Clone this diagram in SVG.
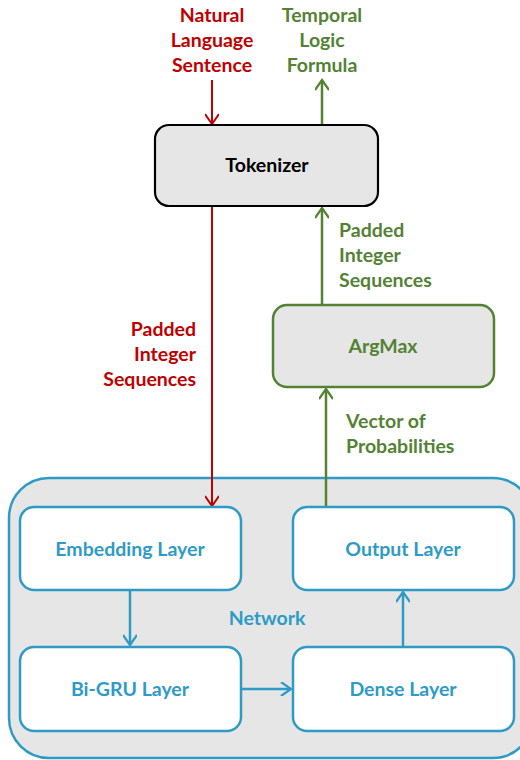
<svg xmlns="http://www.w3.org/2000/svg" width="520" height="760" viewBox="0 0 520 760">
  <style>
    text { font-family: Lato, "Open Sans", "Liberation Sans", sans-serif; font-weight: bold; font-size: 19.5px; }
    .red { fill: #c00000; }
    .green { fill: #548235; }
    .blue { fill: #2e9bc6; }
    .black { fill: #000000; }
    .mid { text-anchor: middle; }
    .end { text-anchor: end; }
    .box { fill: #ffffff; stroke: #2e9bc6; stroke-width: 2.5; }
    .gray { fill: #e6e6e6; }
    .lr { stroke: #c00000; stroke-width: 2; fill: none; }
    .lg { stroke: #548235; stroke-width: 2.5; fill: none; }
    .lb { stroke: #2e9bc6; stroke-width: 2.5; fill: none; }
  </style>
  <defs>
    <marker id="arR" markerWidth="14" markerHeight="14" refX="12" refY="7" orient="auto" markerUnits="userSpaceOnUse">
      <path d="M2,0 L12,7 L2,14" fill="none" stroke="#c00000" stroke-width="2"/>
    </marker>
    <marker id="arG" markerWidth="14" markerHeight="14" refX="12" refY="7" orient="auto" markerUnits="userSpaceOnUse">
      <path d="M2,0 L12,7 L2,14" fill="none" stroke="#548235" stroke-width="2.2"/>
    </marker>
    <marker id="arB" markerWidth="14" markerHeight="14" refX="12" refY="7" orient="auto" markerUnits="userSpaceOnUse">
      <path d="M2,0 L12,7 L2,14" fill="none" stroke="#2e9bc6" stroke-width="2.2"/>
    </marker>
  </defs>

  <!-- network container -->
  <g id="network">
    <rect x="9" y="478" width="524" height="280" rx="40" ry="40" class="gray" stroke="#2e9bc6" stroke-width="2.5"/>
    <text x="267" y="625" class="blue mid">Network</text>
  </g>

  <!-- connectors -->
  <g id="connectors">
    <line x1="212" y1="80" x2="212" y2="124" class="lr" marker-end="url(#arR)"/>
    <line x1="212" y1="207" x2="212" y2="506" class="lr" marker-end="url(#arR)"/>
    <line x1="322" y1="124" x2="322" y2="80" class="lg" marker-end="url(#arG)"/>
    <line x1="322" y1="305" x2="322" y2="208" class="lg" marker-end="url(#arG)"/>
    <line x1="326" y1="506" x2="326" y2="389" class="lg" marker-end="url(#arG)"/>
    <line x1="130" y1="591" x2="130" y2="645" class="lb" marker-end="url(#arB)"/>
    <line x1="242" y1="689" x2="291" y2="689" class="lb" marker-end="url(#arB)"/>
    <line x1="403" y1="647" x2="403" y2="592" class="lb" marker-end="url(#arB)"/>
  </g>

  <!-- edge labels -->
  <g id="labels">
    <text class="red mid"><tspan x="212" y="22">Natural</tspan><tspan x="212" y="47">Language</tspan><tspan x="212" y="72">Sentence</tspan></text>
    <text class="green mid"><tspan x="322" y="22">Temporal</tspan><tspan x="322" y="47">Logic</tspan><tspan x="322" y="72">Formula</tspan></text>
    <text class="green"><tspan x="339" y="237">Padded</tspan><tspan x="339" y="262">Integer</tspan><tspan x="339" y="287">Sequences</tspan></text>
    <text class="red end"><tspan x="196" y="336">Padded</tspan><tspan x="196" y="361">Integer</tspan><tspan x="196" y="386">Sequences</tspan></text>
    <text class="green"><tspan x="346" y="428">Vector of</tspan><tspan x="346" y="453">Probabilities</tspan></text>
  </g>

  <g id="tokenizer">
    <rect x="155" y="125" width="223" height="81" rx="14" ry="14" class="gray" stroke="#000000" stroke-width="2.2"/>
    <text x="267" y="172" class="black mid">Tokenizer</text>
  </g>

  <g id="argmax">
    <rect x="273" y="305" width="221" height="82" rx="14" ry="14" class="gray" stroke="#548235" stroke-width="2.5"/>
    <text x="383" y="353" class="green mid">ArgMax</text>
  </g>

  <g id="embedding">
    <rect x="20" y="507" width="221" height="83" rx="14" ry="14" class="box"/>
    <text x="130" y="556" class="blue mid">Embedding Layer</text>
  </g>

  <g id="output">
    <rect x="293" y="507" width="221" height="83" rx="14" ry="14" class="box"/>
    <text x="403" y="556" class="blue mid">Output Layer</text>
  </g>

  <g id="bigru">
    <rect x="20" y="647" width="221" height="84" rx="14" ry="14" class="box"/>
    <text x="130" y="696" class="blue mid">Bi-GRU Layer</text>
  </g>

  <g id="dense">
    <rect x="293" y="647" width="221" height="84" rx="14" ry="14" class="box"/>
    <text x="403" y="696" class="blue mid">Dense Layer</text>
  </g>
</svg>
